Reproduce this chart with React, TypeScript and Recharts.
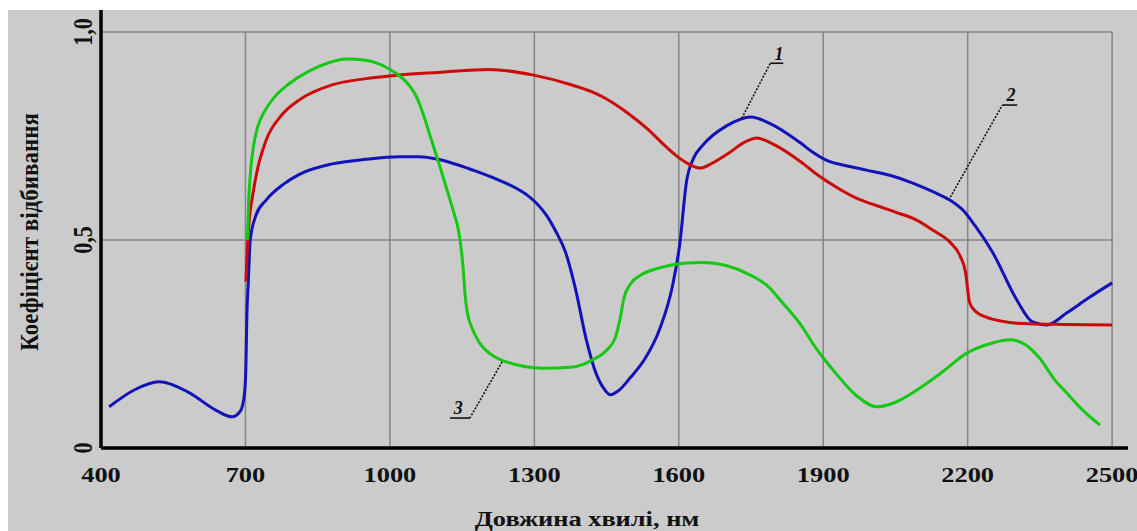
import React from "react";
import { LineChart, Line, XAxis, YAxis, ReferenceLine, ReferenceDot } from "recharts";

// wavelength (nm) / reflectance pairs
const curve1: [number, number][] = [
  [417, 0.099], [470, 0.14], [521, 0.159], [580, 0.135], [640, 0.09], [672, 0.075], [690, 0.09],
  [698, 0.13], [701, 0.2], [703, 0.32], [706, 0.4], [710, 0.5], [722, 0.56], [743, 0.596],
  [780, 0.635], [812, 0.658], [880, 0.683], [950, 0.694], [1020, 0.7], [1060, 0.7], [1100, 0.694],
  [1140, 0.681], [1180, 0.665], [1220, 0.647], [1260, 0.626], [1285, 0.608], [1305, 0.588],
  [1325, 0.56], [1345, 0.52], [1365, 0.47], [1385, 0.385], [1408, 0.26], [1428, 0.18],
  [1445, 0.142], [1458, 0.128], [1475, 0.138], [1500, 0.17], [1530, 0.215], [1560, 0.285],
  [1587, 0.39], [1602, 0.49], [1616, 0.64], [1630, 0.695], [1650, 0.728], [1700, 0.775],
  [1750, 0.796], [1790, 0.78], [1851, 0.735], [1880, 0.71], [1910, 0.69], [1950, 0.678],
  [1990, 0.668], [2040, 0.655], [2086, 0.637], [2130, 0.615], [2163, 0.596], [2190, 0.572],
  [2215, 0.535], [2252, 0.47], [2302, 0.356], [2335, 0.303], [2365, 0.296], [2406, 0.325],
  [2450, 0.36], [2500, 0.397],
];

const curve2: [number, number][] = [
  [701, 0.4], [704, 0.48], [708, 0.55], [714, 0.6], [725, 0.67], [743, 0.74], [775, 0.8],
  [812, 0.837], [880, 0.873], [950, 0.888], [1020, 0.897], [1100, 0.903], [1207, 0.91],
  [1296, 0.897], [1380, 0.872], [1420, 0.856], [1450, 0.839], [1480, 0.817], [1510, 0.791],
  [1540, 0.762], [1570, 0.728], [1600, 0.698], [1625, 0.68], [1645, 0.673], [1665, 0.682],
  [1700, 0.706], [1740, 0.737], [1762, 0.745], [1800, 0.728], [1851, 0.69], [1890, 0.655],
  [1930, 0.625], [1970, 0.6], [2010, 0.583], [2050, 0.567], [2094, 0.548], [2130, 0.522],
  [2163, 0.495], [2185, 0.46], [2196, 0.42], [2200, 0.38], [2204, 0.35], [2215, 0.33],
  [2240, 0.314], [2270, 0.305], [2302, 0.3], [2400, 0.297], [2500, 0.296],
];

const curve3: [number, number][] = [
  [704, 0.5], [707, 0.6], [711, 0.67], [716, 0.72], [725, 0.77], [740, 0.81], [760, 0.843],
  [790, 0.875], [830, 0.905], [870, 0.925], [910, 0.935], [950, 0.932], [980, 0.922],
  [1000, 0.91], [1020, 0.895], [1040, 0.872], [1055, 0.845], [1070, 0.8], [1085, 0.745],
  [1103, 0.68], [1120, 0.615], [1133, 0.565], [1143, 0.52], [1149, 0.47], [1153, 0.42],
  [1156, 0.37], [1161, 0.325], [1170, 0.29], [1185, 0.255], [1210, 0.225], [1242, 0.207],
  [1317, 0.192], [1380, 0.195], [1421, 0.212], [1450, 0.235], [1468, 0.265], [1478, 0.31],
  [1486, 0.36], [1500, 0.395], [1520, 0.415], [1560, 0.433], [1610, 0.444], [1650, 0.446],
  [1700, 0.438], [1750, 0.415], [1782, 0.392], [1815, 0.35], [1851, 0.3], [1885, 0.24],
  [1920, 0.188], [1970, 0.125], [2011, 0.099], [2050, 0.11], [2094, 0.139], [2150, 0.185],
  [2198, 0.228], [2250, 0.252], [2288, 0.26], [2320, 0.248], [2350, 0.215], [2380, 0.165],
  [2406, 0.132], [2440, 0.09], [2475, 0.055],
];

const xTicks = [400, 700, 1000, 1300, 1600, 1900, 2200, 2500];
const yTicks = [0, 0.5, 1.0];
const gridY = [0.5, 1.0];

// curve number labels: text position, leader line (curve end -> label end), underline end
const callouts = [
  { name: "1", text: [1808, 0.932], from: [1731, 0.793], to: [1790, 0.925], end: 1817 },
  { name: "2", text: [2290, 0.835], from: [2164, 0.603], to: [2272, 0.8245], end: 2303 },
  { name: "3", text: [1142, 0.082], from: [1233, 0.207], to: [1166, 0.072], end: 1125 },
];

const toRows = (pts: [number, number][]) => pts.map(([nm, r]) => ({ nm, r }));

const FONT = '"Liberation Serif", "Times New Roman", serif';
const STRETCH = 1.2;

const XTick = (props: any) => {
  const { x, y, payload } = props;
  return (
    <text
      transform={`translate(${x},${y + 26}) scale(${STRETCH},1)`}
      textAnchor="middle"
      fontFamily={FONT}
      fontWeight="bold"
      fontSize={22}
      fill="#111"
    >
      {payload.value}
    </text>
  );
};

const YTick = (props: any) => {
  const { x, y, payload } = props;
  return (
    <text
      transform={`translate(${x - 1},${y}) scale(${STRETCH},1) rotate(-90)`}
      textAnchor="middle"
      fontFamily={FONT}
      fontWeight="bold"
      fontSize={22}
      fill="#111"
    >
      {String(payload.value === 1 ? "1,0" : payload.value).replace(".", ",")}
    </text>
  );
};

export default function App() {
  return (
    <div style={{ position: "absolute", left: 0, top: 0, width: 1137, height: 531, background: "#fff" }}>
      <div style={{ position: "absolute", left: 8, top: 10, width: 1129, height: 521, background: "#cbcbcb" }}>
        <LineChart width={1129} height={521} margin={{ top: 0, right: 9, left: 33, bottom: 43 }}>
          <XAxis
            dataKey="nm"
            type="number"
            domain={[400, 2533]}
            ticks={xTicks}
            allowDuplicatedCategory={false}
            axisLine={{ stroke: "#000", strokeWidth: 3.5 }}
            tickLine={false}
            tick={<XTick />}
            height={40}
            label={{
              content: () => (
                <text
                  transform={`translate(579,516) scale(${STRETCH},1)`}
                  textAnchor="middle"
                  fontFamily={FONT}
                  fontWeight="bold"
                  fontSize={22}
                  fill="#111"
                >
                  Довжина хвилі, нм
                </text>
              ),
            }}
          />
          <YAxis
            dataKey="r"
            type="number"
            domain={[0, 1.053]}
            ticks={yTicks}
            axisLine={{ stroke: "#000", strokeWidth: 3.5 }}
            tickLine={false}
            tick={<YTick />}
            width={60}
            label={{
              content: () => (
                <text
                  transform={`translate(30,222) scale(1.12,1) rotate(-90)`}
                  textAnchor="middle"
                  fontFamily={FONT}
                  fontWeight="bold"
                  fontSize={23}
                  fill="#111"
                >
                  Коефіцієнт відбивання
                </text>
              ),
            }}
          />

          {xTicks.map((t) => (
            <ReferenceLine
              key={"v" + t}
              segment={[{ x: t, y: 0 }, { x: t, y: 1 }]}
              stroke="#858585"
              strokeWidth={1.5}
              ifOverflow="visible"
            />
          ))}
          {gridY.map((v) => (
            <ReferenceLine
              key={"h" + v}
              segment={[{ x: 400, y: v }, { x: 2500, y: v }]}
              stroke="#858585"
              strokeWidth={1.5}
              ifOverflow="visible"
            />
          ))}

          <Line data={toRows(curve1)} dataKey="r" type="monotone" stroke="#1212b8" strokeWidth={3} dot={false} activeDot={false} isAnimationActive={false} />
          <Line data={toRows(curve2)} dataKey="r" type="monotone" stroke="#cc0a0a" strokeWidth={3} dot={false} activeDot={false} isAnimationActive={false} />
          <Line data={toRows(curve3)} dataKey="r" type="monotone" stroke="#14c814" strokeWidth={3} dot={false} activeDot={false} isAnimationActive={false} />

          {callouts.map((c) => (
            <ReferenceLine
              key={"l" + c.name}
              segment={[{ x: c.from[0], y: c.from[1] }, { x: c.to[0], y: c.to[1] }]}
              stroke="#111"
              strokeWidth={1.6}
              strokeDasharray="2 1.5"
              ifOverflow="visible"
            />
          ))}
          {callouts.map((c) => (
            <ReferenceLine
              key={"u" + c.name}
              segment={[{ x: c.to[0], y: c.to[1] }, { x: c.end, y: c.to[1] }]}
              stroke="#111"
              strokeWidth={1.6}
              ifOverflow="visible"
            />
          ))}
          {callouts.map((c) => (
            <ReferenceDot
              key={"t" + c.name}
              x={c.text[0]}
              y={c.text[1]}
              ifOverflow="visible"
              shape={(p: any) => (
                <text
                  x={p.cx}
                  y={p.cy}
                  textAnchor="middle"
                  fontFamily={FONT}
                  fontStyle="italic"
                  fontWeight="bold"
                  fontSize={18}
                  fill="#111"
                >
                  {c.name}
                </text>
              )}
            />
          ))}
        </LineChart>
      </div>
    </div>
  );
}
